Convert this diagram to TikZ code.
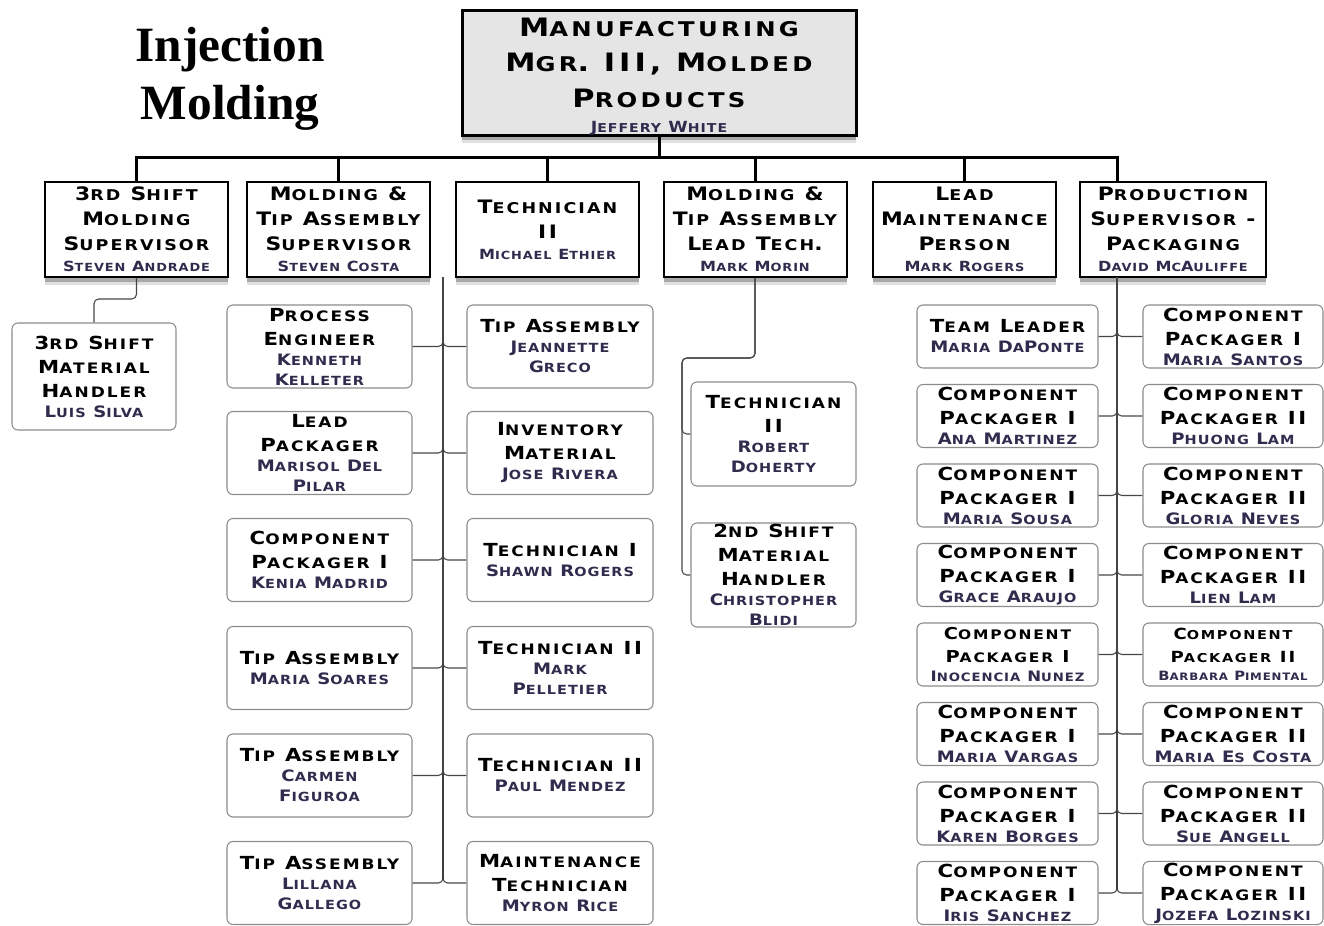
\documentclass[tikz,border=0pt]{standalone}
\usepackage{fontspec}
\usetikzlibrary{shadows}

\newfontfamily\cpfont{DejaVu Sans}[FakeStretch=1.18, LetterSpace=14]
\newfontfamily\cpname{DejaVu Sans}[FakeStretch=1.15, LetterSpace=8]
\newfontfamily\cptop{DejaVu Sans}[FakeStretch=1.2, LetterSpace=16]
\newfontfamily\headserif{Liberation Serif}

\definecolor{namecol}{RGB}{48,44,78}
\definecolor{topfill}{RGB}{229,229,229}
\definecolor{lowborder}{RGB}{140,140,140}
\definecolor{connc}{RGB}{70,70,70}

% small caps built by hand: lowercase letters are set smaller and upper-cased
\ExplSyntaxOn
\seq_new:N \l__fsc_seq
\bool_new:N \l__fsc_first_bool
\cs_new_protected:Npn \fsc_small:
  { \fontsize { \fp_eval:n { 0.8 * \use:c { f@size } } } { 0pt } \selectfont }
\cs_new_protected:Npn \fsc_char:N #1
  {
    \bool_lazy_and:nnTF
      { \token_if_letter_p:N #1 }
      { \int_compare_p:nNn { `#1 } = { \char_value_lccode:n { `#1 } } }
      { { \fsc_small: \uppercase {#1} } }
      { #1 }
  }
\NewDocumentCommand \fsc { m }
  {
    \seq_set_split:Nnn \l__fsc_seq { ~ } {#1}
    \bool_set_true:N \l__fsc_first_bool
    \seq_map_inline:Nn \l__fsc_seq
      {
        \bool_if:NF \l__fsc_first_bool { \c_space_tl }
        \bool_set_false:N \l__fsc_first_bool
        \tl_map_inline:nn {##1} { \fsc_char:N ####1 }
      }
  }
\ExplSyntaxOff

\newcommand\fTop{\cptop\bfseries\fontsize{19}{26.6}\selectfont\def\nmsize{11.5}}
\newcommand\fMid{\cpfont\bfseries\fontsize{13.9}{18.75}\selectfont\def\nmsize{10.5}}
\newcommand\fLow{\cpfont\bfseries\fontsize{13.5}{18}\selectfont\def\nmsize{11.8}}
\newcommand\fLowS{\cpfont\bfseries\fontsize{12.3}{17}\selectfont\def\nmsize{10.8}}
\newcommand\fLowXS{\cpfont\bfseries\fontsize{11.5}{17}\selectfont\def\nmsize{9.6}}
\newcommand\nm[1]{{\color{namecol}\cpname\bfseries\fontsize{\nmsize}{\nmsize}\selectfont\fsc{#1}}}

\tikzset{
  wh/.style 2 args={minimum width=#1*0.75pt, minimum height=#2*0.75pt},
  shd/.style={
    drop shadow={shadow xshift=0pt, shadow yshift=-6pt, opacity=.12, fill=black},
    drop shadow={shadow xshift=0pt, shadow yshift=-3.5pt, opacity=.25, fill=black}},
  topbox/.style={draw=black, line width=2.25pt, fill=topfill, shd},
  toptext/.style={align=center, inner sep=1pt, font=\fTop},
  midbox/.style={draw=black, line width=1.5pt, fill=white, align=center,
    inner sep=1pt, font=\fMid, shd, wh={183}{95}},
  lowbox/.style={draw=lowborder, line width=0.8pt, rounded corners=4.5pt,
    fill=white, align=center, inner sep=1pt, font=\fLow},
  colA/.style={lowbox, wh={185}{83}},
  colB/.style={lowbox, wh={186}{83}},
  colP/.style={lowbox, wh={181}{63}},
  colQ/.style={lowbox, wh={180}{63}},
  bus/.style={line width=2.25pt, black},
  spine/.style={line width=1.3pt, black},
  conn/.style={line width=0.8pt, connc, rounded corners=3.5pt},
}

\begin{document}
\begin{tikzpicture}[x=0.75pt,y=-0.75pt]
\path[use as bounding box] (0,0) rectangle (1324,925);

% heading
\node[font=\headserif\bfseries\fontsize{37}{43.5}\selectfont, align=center]
  (head) at (230,79) {Injection\\Molding};

% manager
\node[topbox, wh={394}{125}] (top) at (659,72.5) {};
\node[toptext] (toptxt) at (659,77)
  {\fsc{Manufacturing\\Mgr. III, Molded\\Products}\\[-7.5pt]\nm{Jeffery White}};

% second level
\node[midbox] (m1) at (136.5,229.5) {\fsc{3rd Shift\\Molding\\Supervisor}\\[-3pt]\nm{Steven Andrade}};
\node[midbox] (m2) at (338.5,229.5) {\fsc{Molding \&\\Tip Assembly\\Supervisor}\\[-3pt]\nm{Steven Costa}};
\node[midbox] (m3) at (547.5,229.5) {\fsc{Technician\\II}\\[-3pt]\nm{Michael Ethier}};
\node[midbox] (m4) at (755,229.5) {\fsc{Molding \&\\Tip Assembly\\Lead Tech.}\\[-3pt]\nm{Mark Morin}};
\node[midbox] (m5) at (964.5,229.5) {\fsc{Lead\\Maintenance\\Person}\\[-3pt]\nm{Mark Rogers}};
\node[midbox, wh={186}{95}] (m6) at (1173,229.5) {\fsc{Production\\Supervisor -\\Packaging}\\[-3pt]\nm{David McAuliffe}};

% under the 3rd shift supervisor
\node[lowbox, wh={164}{107}] (luis) at (94,376.5) {\fsc{3rd Shift\\Material\\Handler}\\[-3pt]\nm{Luis Silva}};

% under the molding & tip assembly supervisor
\node[colA] (a1) at (319.5,346.5) {\fsc{Process\\Engineer}\\[-3pt]\nm{Kenneth}\\[-3pt]\nm{Kelleter}};
\node[colA] (a2) at (319.5,453) {\fsc{Lead\\Packager}\\[-3pt]\nm{Marisol Del}\\[-3pt]\nm{Pilar}};
\node[colA] (a3) at (319.5,560) {\fsc{Component\\Packager I}\\[-3pt]\nm{Kenia Madrid}};
\node[colA] (a4) at (319.5,668) {\fsc{Tip Assembly}\\[-3pt]\nm{Maria Soares}};
\node[colA] (a5) at (319.5,775.5) {\fsc{Tip Assembly}\\[-3pt]\nm{Carmen}\\[-3pt]\nm{Figuroa}};
\node[colA] (a6) at (319.5,883) {\fsc{Tip Assembly}\\[-3pt]\nm{Lillana}\\[-3pt]\nm{Gallego}};

\node[colB] (b1) at (560,346.5) {\fsc{Tip Assembly}\\[-3pt]\nm{Jeannette}\\[-3pt]\nm{Greco}};
\node[colB] (b2) at (560,453) {\fsc{Inventory\\Material}\\[-3pt]\nm{Jose Rivera}};
\node[colB] (b3) at (560,560) {\fsc{Technician I}\\[-3pt]\nm{Shawn Rogers}};
\node[colB] (b4) at (560,668) {\fsc{Technician II}\\[-3pt]\nm{Mark}\\[-3pt]\nm{Pelletier}};
\node[colB] (b5) at (560,775.5) {\fsc{Technician II}\\[-3pt]\nm{Paul Mendez}};
\node[colB] (b6) at (560,883) {\fsc{Maintenance\\Technician}\\[-3pt]\nm{Myron Rice}};

% under the lead tech
\node[lowbox, wh={165}{104}] (d1) at (773.5,434) {\fsc{Technician\\II}\\[-3pt]\nm{Robert}\\[-3pt]\nm{Doherty}};
\node[lowbox, wh={165}{104}] (d2) at (773.5,575) {\fsc{2nd Shift\\Material\\Handler}\\[-3pt]\nm{Christopher}\\[-3pt]\nm{Blidi}};

% under the packaging supervisor
\node[colP] (p1) at (1007.5,336.5) {\fsc{Team Leader}\\[-3pt]\nm{Maria DaPonte}};
\node[colP] (p2) at (1007.5,416) {\fsc{Component\\Packager I}\\[-3pt]\nm{Ana Martinez}};
\node[colP] (p3) at (1007.5,495.5) {\fsc{Component\\Packager I}\\[-3pt]\nm{Maria Sousa}};
\node[colP] (p4) at (1007.5,575) {\fsc{Component\\Packager I}\\[-3pt]\nm{Grace Araujo}};
\node[colP, font=\fLowS] (p5) at (1007.5,654.5) {\fsc{Component\\Packager I}\\[-3pt]\nm{Inocencia Nunez}};
\node[colP] (p6) at (1007.5,734) {\fsc{Component\\Packager I}\\[-3pt]\nm{Maria Vargas}};
\node[colP] (p7) at (1007.5,813.5) {\fsc{Component\\Packager I}\\[-3pt]\nm{Karen Borges}};
\node[colP] (p8) at (1007.5,893) {\fsc{Component\\Packager I}\\[-3pt]\nm{Iris Sanchez}};

\node[colQ] (q1) at (1233,336.5) {\fsc{Component\\Packager I}\\[-3pt]\nm{Maria Santos}};
\node[colQ] (q2) at (1233,416) {\fsc{Component\\Packager II}\\[-3pt]\nm{Phuong Lam}};
\node[colQ] (q3) at (1233,495.5) {\fsc{Component\\Packager II}\\[-3pt]\nm{Gloria Neves}};
\node[colQ] (q4) at (1233,575) {\fsc{Component\\Packager II}\\[-3pt]\nm{Lien Lam}};
\node[colQ, font=\fLowXS] (q5) at (1233,654.5) {\fsc{Component\\Packager II}\\[-3pt]\nm{Barbara Pimental}};
\node[colQ] (q6) at (1233,734) {\fsc{Component\\Packager II}\\[-3pt]\nm{Maria Es Costa}};
\node[colQ] (q7) at (1233,813.5) {\fsc{Component\\Packager II}\\[-3pt]\nm{Sue Angell}};
\node[colQ] (q8) at (1233,893) {\fsc{Component\\Packager II}\\[-3pt]\nm{Jozefa Lozinski}};

% main bus
\coordinate (bus) at (659,157);
\coordinate (s2) at (443,277);
\coordinate (s6) at (1117,277);
\coordinate (k4) at (682,358);
\draw[bus] (top.south) -- (bus);
\foreach \m in {m1,m2,m3,m4,m5} \draw[bus] (\m.north) |- (bus);
\draw[bus] (bus) -| (s6 |- m6.north);

% branch lines
\draw[conn] (m1.south) -- ++(0,21) -| (luis.north);
\draw[spine] (s2) -- ([yshift=3pt]s2 |- a6.east);
\draw[spine] (s6) -- ([yshift=3pt]s6 |- p8.east);
\foreach \c in {a1,a2,a3,a4,a5,a6} \draw[conn] (s2) |- (\c.east);
\foreach \c in {b1,b2,b3,b4,b5,b6} \draw[conn] (s2) |- (\c.west);
\foreach \c in {d1,d2} \draw[conn] (m4.south) |- (k4) |- (\c.west);
\foreach \c in {p1,p2,p3,p4,p5,p6,p7,p8} \draw[conn] (s6) |- (\c.east);
\foreach \c in {q1,q2,q3,q4,q5,q6,q7,q8} \draw[conn] (s6) |- (\c.west);
\end{tikzpicture}
\end{document}
